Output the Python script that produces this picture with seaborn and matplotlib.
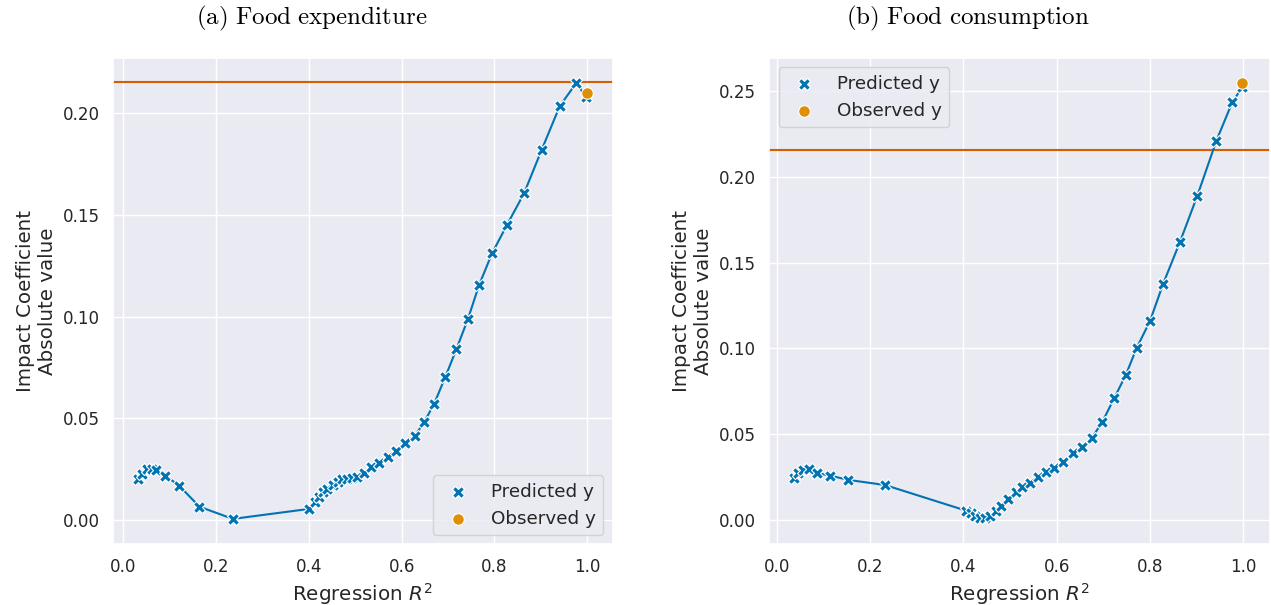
import matplotlib
matplotlib.use("Agg")
import matplotlib.pyplot as plt
import seaborn as sns
import numpy as np
import pandas as pd

# ---- data ----
exp_r2 = [0.032, 0.040, 0.050, 0.061, 0.070, 0.090, 0.120, 0.164, 0.236, 0.400,
          0.413, 0.422, 0.431, 0.440, 0.451, 0.462, 0.472, 0.483, 0.494, 0.503,
          0.519, 0.535, 0.552, 0.570, 0.588, 0.607, 0.629, 0.649, 0.670, 0.694,
          0.718, 0.743, 0.767, 0.795, 0.827, 0.864, 0.902, 0.941, 0.977, 0.997]
exp_coef = [0.0200, 0.0225, 0.0249, 0.0249, 0.0246, 0.0218, 0.0169, 0.0065, 0.0005, 0.0054,
            0.0090, 0.0115, 0.0136, 0.0151, 0.0171, 0.0188, 0.0202, 0.0202, 0.0205, 0.0213,
            0.0233, 0.0259, 0.0282, 0.0308, 0.0341, 0.0377, 0.0414, 0.0483, 0.0570, 0.0702,
            0.0839, 0.0988, 0.1155, 0.1311, 0.1450, 0.1606, 0.1820, 0.2035, 0.2150, 0.2080]
exp_obs_r2 = [0.999]
exp_obs_coef = [0.2100]

con_r2 = [0.037, 0.045, 0.056, 0.068, 0.087, 0.114, 0.153, 0.232, 0.405, 0.416,
          0.425, 0.436, 0.446, 0.457, 0.470, 0.481, 0.496, 0.512, 0.526, 0.543,
          0.559, 0.577, 0.594, 0.614, 0.634, 0.654, 0.675, 0.698, 0.723, 0.748,
          0.771, 0.800, 0.828, 0.864, 0.901, 0.942, 0.976, 0.998]
con_coef = [0.0242, 0.0271, 0.0290, 0.0294, 0.0271, 0.0257, 0.0232, 0.0202, 0.0053, 0.0037,
            0.0022, 0.0008, 0.0008, 0.0022, 0.0053, 0.0082, 0.0119, 0.0160, 0.0189, 0.0216,
            0.0247, 0.0280, 0.0300, 0.0338, 0.0391, 0.0422, 0.0475, 0.0572, 0.0708, 0.0844,
            0.1000, 0.1160, 0.1376, 0.1620, 0.1888, 0.2210, 0.2435, 0.2525]
con_obs_r2 = [0.998]
con_obs_coef = [0.2546]

ref_line = 0.2155
titles = [r"$\mathrm{(a)\ Food\ expenditure}$", r"$\mathrm{(b)\ Food\ consumption}$"]

sns.set_theme(style="darkgrid", context="notebook", font_scale=1.1)
pal = sns.color_palette("colorblind")

fig = plt.figure(figsize=(12.71, 6.05), dpi=100)
ax1 = fig.add_axes([0.0887, 0.1003, 0.3933, 0.8033])
ax2 = fig.add_axes([0.6053, 0.1003, 0.3939, 0.8033])

panels = [
    (ax1, exp_r2, exp_coef, exp_obs_r2, exp_obs_coef, (-0.023, 1.055), (-0.012, 0.227), "lower right", 0.2455),
    (ax2, con_r2, con_coef, con_obs_r2, con_obs_coef, (-0.016, 1.057), (-0.0144, 0.2692), "upper left", 0.7616),
]

for (ax, xr, yc, oxr, oyc, xl, yl, loc, tx), title in zip(panels, titles):
    df = pd.DataFrame({"r2": xr, "coef": yc})
    dfo = pd.DataFrame({"r2": oxr, "coef": oyc})
    ax.axhline(ref_line, color=pal[3], lw=1.5, zorder=1)
    sns.lineplot(data=df, x="r2", y="coef", ax=ax, color=pal[0], lw=1.5,
                 sort=False, zorder=2)
    sns.scatterplot(data=df, x="r2", y="coef", ax=ax, color=pal[0], marker="X",
                    s=75, edgecolor="white", linewidth=0.8, label="Predicted y", zorder=3)
    sns.scatterplot(data=dfo, x="r2", y="coef", ax=ax, color=pal[1], marker="o",
                    s=70, edgecolor="white", linewidth=0.8, label="Observed y", zorder=4)
    ax.set_xlim(*xl)
    ax.set_ylim(*yl)
    ax.set_xticks([0.0, 0.2, 0.4, 0.6, 0.8, 1.0])
    ax.set_xlabel(r"Regression $R^2$", fontsize=14.3)
    ax.set_ylabel("Impact Coefficient\nAbsolute value", fontsize=14.3)
    t = fig.text(tx, 0.970, title, fontsize=18, ha="center", va="center", color="black")
    t.set_math_fontfamily("cm")
    ax.legend(loc=loc, fontsize=13.2)

fig.savefig("out.png", dpi=100)
